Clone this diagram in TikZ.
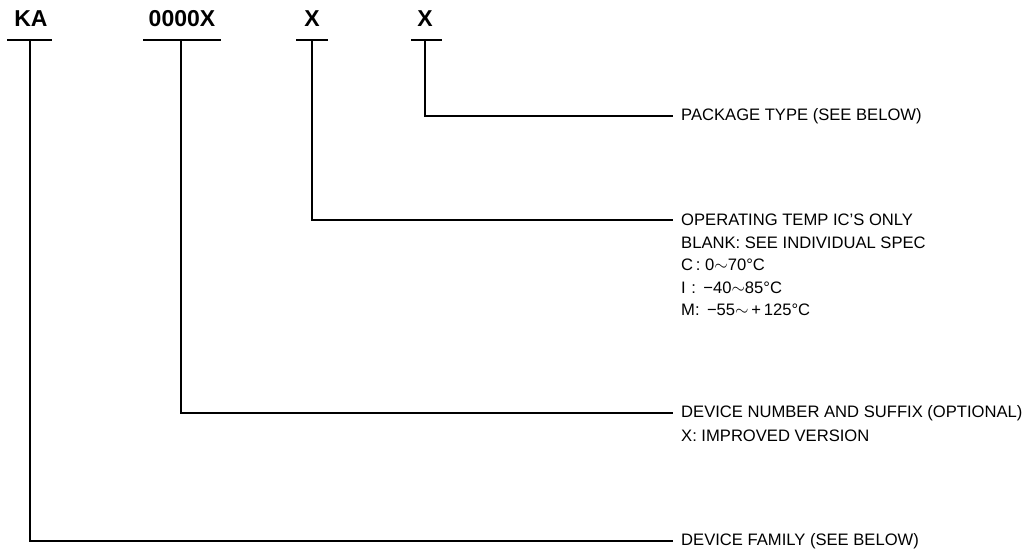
\documentclass[tikz,border=0pt]{standalone}
\usepackage{fontspec}
\setmainfont{Liberation Sans}
\begin{document}
\begin{tikzpicture}[x=1pt,y=-1pt,
  hdr/.style={font=\bfseries\fontsize{23}{26}\selectfont, inner sep=0pt, anchor=center},
  bar/.style={line width=2.7pt},
  conn/.style={line width=1.3pt},
  lbl/.style={font=\fontsize{16.6}{19}\selectfont, inner xsep=8pt, inner ysep=0pt, anchor=west},
  sub/.style={font=\fontsize{16.6}{19}\selectfont, inner sep=0pt, anchor=west}]
\useasboundingbox (0,0) rectangle (1029,553);
% headers
\node[hdr] (ka) at (31,19) {KA};
\node[hdr] (num) at (182,19) {0000X};
\node[hdr] (tmp) at (312,19) {X};
\node[hdr] (pkg) at (425,19) {X};
\draw[bar] (7,40) -- (52,40);
\draw[bar] (143,40) -- (221,40);
\draw[bar] (296,40) -- (328,40);
\draw[bar] (411,40) -- (442,40);
\coordinate (kab) at (30,40);
\coordinate (numb) at (181,40);
\coordinate (tmpb) at (312,40);
\coordinate (pkgb) at (425,40);
% labels
\node[lbl] (pkgl) at (673,116) {PACKAGE TYPE (SEE BELOW)};
\node[lbl] (tmpl) at (673,220) {OPERATING TEMP IC'S ONLY};
\node[sub] (tmp2) at (681,242.5) {BLANK: SEE INDIVIDUAL SPEC};
\node[sub] (tmp3) at (681,265) {C\,: 0$\sim$70°C};
\node[sub] (tmp4) at (681,287.5) {I\,\,: \,−40$\sim$85°C};
\node[sub] (tmp5) at (681,310) {M:\, −55$\sim$\,+\,125°C};
\node[lbl] (numl) at (673,413) {DEVICE NUMBER AND SUFFIX (OPTIONAL)};
\node[sub] (num2) at (681,435.5) {X: IMPROVED VERSION};
\node[lbl] (kal) at (673,541) {DEVICE FAMILY (SEE BELOW)};
% connectors
\draw[conn] (pkgb) |- (pkgl.west);
\draw[conn] (tmpb) |- (tmpl.west);
\draw[conn] (numb) |- (numl.west);
\draw[conn] (kab) |- (kal.west);
\end{tikzpicture}
\end{document}
